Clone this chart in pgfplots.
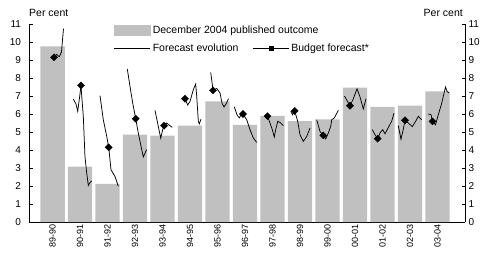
\documentclass[border=0pt]{standalone}
\usepackage{pgfplots}
\pgfplotsset{compat=1.18}
\usepackage{fontspec}
\setmainfont{Liberation Sans}
\definecolor{bargray}{RGB}{192,192,192}
\begin{document}
\begin{tikzpicture}
\path[use as bounding box] (-29pt,-43pt) rectangle (463pt,222pt);
\begin{axis}[
  name=ax, scale only axis, width=436pt, height=198pt,
  xmin=-0.855, xmax=15, ymin=0, ymax=11,
  axis x line*=bottom, axis y line*=left,
  xtick={0,...,14},
  xticklabels={89-90,90-91,91-92,92-93,93-94,94-95,95-96,96-97,97-98,98-99,99-00,00-01,01-02,02-03,03-04},
  ytick={0,...,11},
  tick align=inside, major tick length=3.5pt,
  x tick style={draw=none},
  tick style={black, line width=0.6pt},
  axis line style={line width=0.6pt},
  xticklabel style={font=\fontsize{9}{10}\selectfont, yshift=-2pt, rotate=90, anchor=east, inner sep=0pt},
  yticklabel style={font=\fontsize{10}{12}\selectfont, xshift=-4.5pt},
  /pgf/number format/assume math mode=true,
  ylabel={Per cent},
  every axis y label/.style={at={(rel axis cs:0,1)}, anchor=south west, font=\fontsize{10.5}{12}\selectfont, yshift=7pt, inner sep=0pt},
  legend columns=2,
  legend style={at={(0.195,1)}, anchor=north west, draw=none, fill=none, inner sep=0pt, outer sep=0pt,
    font=\fontsize{10.5}{12}\selectfont, row sep=5pt, column sep=0pt,
    /tikz/every even column/.append style={column sep=12pt}},
  legend cell align=left,
]
% published outcome
\addplot[ybar, bar width=0.89, fill=bargray, draw=none, forget plot] coordinates {
(0,9.75) (1,3.08) (2,2.12) (3,4.85) (4,4.8) (5,5.35) (6,6.7) (7,5.4) (8,5.9) (9,5.6) (10,5.7) (11,7.47) (12,6.4) (13,6.46) (14,7.26)
};
% forecast evolution
\addplot[black, line width=0.75pt, unbounded coords=jump, forget plot] coordinates {
(0.055,9.15) (0.153,9.31) (0.247,9.18) (0.327,9.45) (0.364,10.13) (0.4,10.74)
(0.5,nan)
(0.756,6.83) (0.855,6.55) (0.916,6.15) (0.982,6.9) (1.036,7.59) (1.062,7.0) (1.12,5.87) (1.18,3.64) (1.244,2.72) (1.302,2.03) (1.364,2.2) (1.425,2.28)
(1.5,nan)
(1.727,7.02) (1.847,5.68) (1.971,4.76) (2.044,4.15) (2.127,2.9) (2.273,2.53) (2.393,1.98)
(2.5,nan)
(2.72,8.5) (2.818,7.53) (2.916,6.61) (3.025,5.74) (3.12,4.94) (3.244,4.02) (3.302,3.61) (3.364,3.83) (3.425,4.02)
(3.5,nan)
(3.727,6.2) (3.847,5.31) (3.935,4.66) (4.007,5.13) (4.055,5.35) (4.153,5.5) (4.236,5.39) (4.356,5.26)
(4.5,nan)
(4.818,6.85) (4.916,6.5) (5.0,6.7) (5.12,7.35) (5.207,7.67) (5.244,6.98) (5.302,5.6) (5.338,5.45) (5.4,5.72)
(5.5,nan)
(5.753,8.31) (5.811,7.63) (5.836,7.31) (5.971,7.42) (6.091,7.17) (6.164,6.6) (6.236,6.39) (6.309,6.55) (6.4,6.85)
(6.5,nan)
(6.611,6.4) (6.709,5.95) (6.793,5.78) (6.855,5.95) (6.927,6.0) (7.062,5.68) (7.182,5.13) (7.302,4.67) (7.425,4.42)
(7.5,nan)
(7.727,5.95) (7.818,5.88) (7.909,5.5) (7.993,5.13) (8.065,4.72) (8.116,5.13) (8.189,5.59) (8.273,5.53) (8.393,5.35)
(8.5,nan)
(8.662,6.15) (8.727,5.95) (8.807,6.17) (8.916,5.59) (9.0,4.85) (9.12,4.48) (9.244,4.75) (9.364,5.22)
(9.5,nan)
(9.607,5.68) (9.727,5.03) (9.847,4.81) (9.935,4.62) (10.029,4.94) (10.116,5.31) (10.153,5.68) (10.247,5.78) (10.393,6.2)
(10.5,nan)
(10.618,7.0) (10.709,6.75) (10.818,6.46) (10.927,6.8) (11.073,7.4) (11.182,6.95) (11.302,6.28) (11.4,6.85)
(11.5,nan)
(11.629,5.13) (11.727,4.85) (11.825,4.63) (11.909,4.95) (12.007,5.13) (12.091,4.9) (12.211,5.25) (12.335,5.6) (12.418,6.05)
(12.5,nan)
(12.575,5.35) (12.673,4.6) (12.756,5.15) (12.818,5.65) (12.938,5.5) (13.084,5.3) (13.207,5.6) (13.302,5.87) (13.425,5.68)
(13.5,nan)
(13.665,6.0) (13.764,5.96) (13.818,5.59) (13.927,5.4) (14.018,5.9) (14.153,6.6) (14.291,7.5) (14.345,7.26) (14.418,7.16)
};
% budget forecast
\addplot[only marks, mark=square*, mark size=2.5pt, mark options={rotate=45, black, fill=black}, forget plot] coordinates {
(0.055,9.15) (1.036,7.59) (2.044,4.15) (3.025,5.74) (4.055,5.35) (4.818,6.85) (5.836,7.31) (6.927,6.0) (7.818,5.88) (8.807,6.17) (9.847,4.81) (10.818,6.46) (11.825,4.63) (12.818,5.65) (13.818,5.59)
};
\addlegendimage{legend image code/.code={\fill[bargray] (0pt,-5pt) rectangle (36pt,5pt);}}
\addlegendentry{\rlap{December 2004 published outcome}\phantom{Forecast evolution}}
\addlegendimage{empty legend}
\addlegendentry{}
\addlegendimage{legend image code/.code={\draw[black, line width=0.75pt] (0pt,0pt) -- (36pt,0pt);}}
\addlegendentry{Forecast evolution}
\addlegendimage{legend image code/.code={\draw[black, line width=0.75pt] (0pt,0pt) -- (36pt,0pt); \fill[black] (16pt,-2pt) rectangle (20pt,2pt);}}
\addlegendentry{Budget forecast*}
\end{axis}
\begin{axis}[
  scale only axis, width=436pt, height=198pt,
  xmin=-0.855, xmax=15, ymin=0, ymax=11,
  axis y line*=right, axis x line=none,
  ytick={0,...,11},
  tick align=inside, major tick length=3.5pt,
  tick style={black, line width=0.6pt},
  axis line style={line width=0.6pt},
  yticklabel style={font=\fontsize{10}{12}\selectfont},
  /pgf/number format/assume math mode=true,
  ylabel={Per cent},
  every axis y label/.style={at={(rel axis cs:1,1)}, anchor=south east, font=\fontsize{10.5}{12}\selectfont, yshift=7pt, xshift=-2pt, inner sep=0pt},
]
\end{axis}
\end{tikzpicture}
\end{document}
